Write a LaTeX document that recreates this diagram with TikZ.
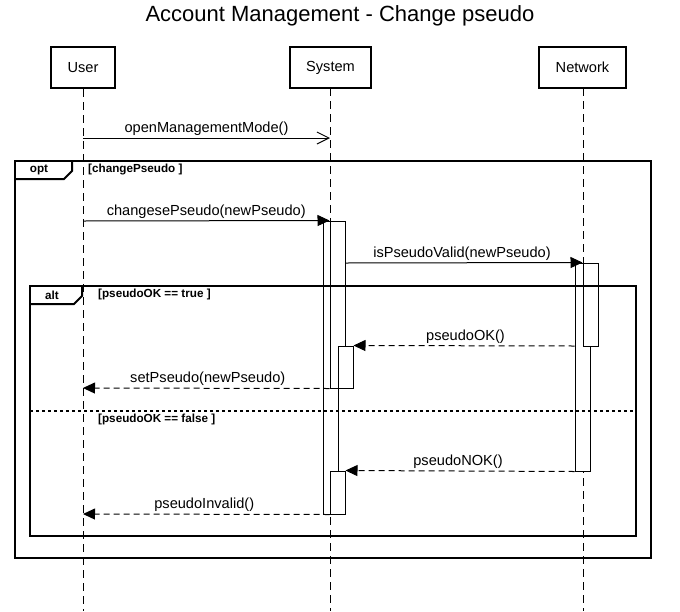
\documentclass[tikz,border=0pt]{standalone}
\usepackage{fontspec}
\setmainfont{Liberation Sans}
\usetikzlibrary{arrows.meta}
\tikzset{
  head/.style={draw, line width=2pt, fill=white, minimum height=41pt, inner sep=0pt, font=\fontsize{14.6}{17}\selectfont},
  lifeline/.style={line width=1pt, dash pattern=on 8pt off 5pt},
  actbox/.style={draw, line width=1pt, fill=white, minimum width=15pt, inner sep=0pt},
  frame/.style={draw, line width=2pt},
  msg/.style={line width=1pt, -{Triangle[length=12pt,width=11pt]}},
  openmsg/.style={line width=1pt, -{Straight Barb[length=12pt,width=12pt,line width=1pt]}},
  reply/.style={msg, dash pattern=on 6pt off 4pt},
  lbl/.style={font=\fontsize{14.6}{17}\selectfont, above, inner sep=2pt},
  guard/.style={font=\bfseries\fontsize{11.7}{13}\selectfont, anchor=west, inner sep=0pt},
  tab/.style={font=\bfseries\fontsize{11.7}{13}\selectfont, inner sep=0pt},
}
\begin{document}
\begin{tikzpicture}[x=1pt,y=-1pt]
\useasboundingbox[fill=white] (0,0) rectangle (680,611);
\node[font=\fontsize{22}{26}\selectfont] (title) at (340,15.5) {Account Management - Change pseudo};
% heads
\node[head, minimum width=64pt] (user) at (83,67.5) {User};
\node[head, minimum width=81pt] (sys) at (330.5,67.5) {System};
\node[head, minimum width=87pt] (net) at (582.5,67.5) {Network};
% lifelines
\coordinate (uend) at (83,611);
\coordinate (send) at (330,611);
\coordinate (nend) at (583,611);
\draw[lifeline] (user.south) -- (uend);
\draw[lifeline] (330,88) coordinate (sstart) -- (send);
\draw[lifeline] (583,88) coordinate (nstart) -- (nend);
% activation bars
\node[actbox, minimum height=293pt] (sa1) at (330.5,367.5) {};
\node[actbox, minimum height=167pt] (sa2) at (337.5,304.5) {};
\node[actbox, minimum height=42pt] (sa3) at (345.5,367) {};
\node[actbox, minimum height=43pt] (sa4) at (337.5,492.5) {};
\node[actbox, minimum height=208pt] (na1) at (582.5,367) {};
\node[actbox, minimum height=83pt] (na2) at (590.5,304.5) {};
% endpoints on User lifeline
\coordinate (u1) at (83,138);
\coordinate (s1) at (330,138);
\coordinate (u2) at (83,221);
\coordinate (u5) at (83,388);
\coordinate (u7) at (83,514);
% messages
\draw[openmsg] (u1) -- node[lbl]{openManagementMode()} (s1);
\draw[msg] (u2) -- node[lbl]{changesePseudo(newPseudo)} (sa2.north west);
\draw[msg] (sa2.east |- 0,263) -- node[lbl, xshift=-2pt]{isPseudoValid(newPseudo)} (na2.north west);
\draw[reply] (na1.west |- 0,346) -- node[lbl, xshift=1.5pt]{pseudoOK()} (sa3.north east);
\draw[reply] (sa2.south west) -- node[lbl, xshift=1.5pt]{setPseudo(newPseudo)} (u5);
\draw[reply] (na1.south west) -- node[lbl, xshift=-2pt]{pseudoNOK()} (sa4.north east);
\draw[reply] (sa4.south west) -- node[lbl, xshift=-2pt]{pseudoInvalid()} (u7);
% opt frame
\draw[frame] (15,161) rectangle (651,558);
\draw[frame] (15,179) -- (64,179) -- (72,171) -- (72,161);
\node[tab] (optlbl) at (39,170) {opt};
\node[guard] (optg) at (88,169.5) {[changePseudo ]};
% alt frame
\draw[frame] (30,286) rectangle (636,536);
\draw[frame] (30,304) -- (74,304) -- (82,296) -- (82,286);
\node[tab] (altlbl) at (52,295) {alt};
\node[guard] (altg1) at (98,294.5) {[pseudoOK == true ]};
\draw[line width=2pt, dash pattern=on 3pt off 3pt] (30,411) -- (636,411);
\node[guard] (altg2) at (98,419.5) {[pseudoOK == false ]};
\end{tikzpicture}
\end{document}
